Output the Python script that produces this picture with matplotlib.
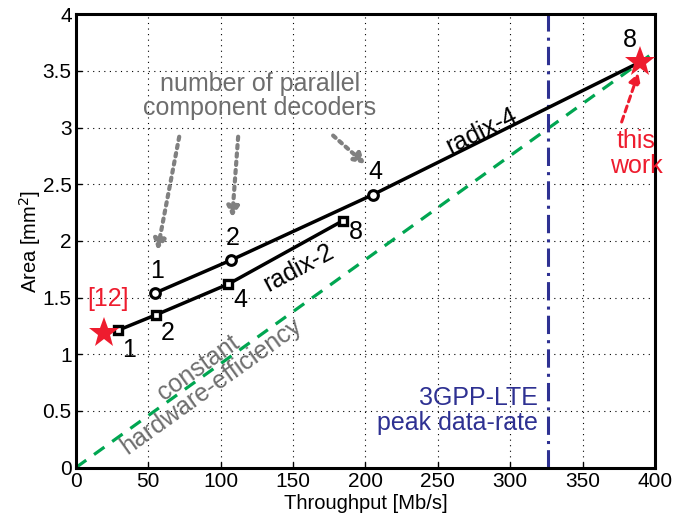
import matplotlib
matplotlib.use("Agg")
import matplotlib.pyplot as plt

plt.rcParams['font.family'] = ['Liberation Sans', 'DejaVu Sans']

# data
r4_x = [54.6, 107, 205.4]
r4_y = [1.54, 1.83, 2.41]
r4_labels = ['1', '2', '4']
r2_x = [28.8, 55.7, 105.4, 184.6]
r2_y = [1.21, 1.35, 1.62, 2.18]
r2_labels = ['1', '2', '4', '8']
this_x, this_y = 390, 3.58
ref_x, ref_y = 19.5, 1.19
eff_x = [0, 400]
eff_y = [0, 3.67]
lte_x = 326.4

RED = '#EE1C2E'
GRAY = '#6E6E6E'
GREEN = '#00A651'
BLUE = '#2E3192'

fig = plt.figure(figsize=(6.96, 5.21), dpi=100)
ax = fig.add_axes([0.109, 0.1025, 0.832, 0.870])

ax.set_xlim(0, 400)
ax.set_ylim(0, 4)
ax.set_xticks(range(0, 401, 50))
ax.set_yticks([0, 0.5, 1, 1.5, 2, 2.5, 3, 3.5, 4])
ax.set_yticklabels(['0', '0.5', '1', '1.5', '2', '2.5', '3', '3.5', '4'])
ax.grid(True, color='black', linestyle=(0, (1, 4)), linewidth=0.8)
ax.tick_params(direction='in', labelsize=15, length=4, width=1, pad=3)
for s in ax.spines.values():
    s.set_linewidth(2.2)
ax.set_xlabel('Throughput [Mb/s]', fontsize=14.5, labelpad=2)
ax.set_ylabel('Area [mm$^2$]', fontsize=14.5, labelpad=0)

# constant efficiency line
ax.plot(eff_x, eff_y, color=GREEN, linestyle=(0, (4, 3)), linewidth=2.3, zorder=2)
# LTE line
ax.axvline(lte_x, color=BLUE, linestyle=(0, (6, 2, 1, 2)), linewidth=2.2, zorder=2)

# radix-4
ax.plot(r4_x + [this_x], r4_y + [this_y], color='black', linewidth=2.5, zorder=3)
ax.plot(r4_x, r4_y, linestyle='none', marker='o', markersize=7,
        markerfacecolor='white', markeredgecolor='black', markeredgewidth=2.2, zorder=4)
# radix-2
ax.plot(r2_x, r2_y, color='black', linewidth=2.5, marker='s', markersize=5.5,
        markerfacecolor='white', markeredgecolor='black', markeredgewidth=2.4, zorder=4)

# stars
ax.plot([this_x], [this_y], marker='*', markersize=23, color=RED, markeredgewidth=0, zorder=5)
ax.plot([ref_x], [ref_y], marker='*', markersize=23, color=RED, markeredgewidth=0, zorder=5)

fs = 18
for x, y, t in zip(r4_x, r4_y, r4_labels):
    ax.text(x + 1.5, y + 0.09, t, fontsize=fs, ha='center', va='bottom')
for x, y, t, dx, dy in zip(r2_x, r2_y, r2_labels, [8, 8, 8, 9], [-0.17, -0.16, -0.14, -0.1]):
    ax.text(x + dx, y + dy, t, fontsize=fs, ha='center', va='center')
ax.text(383, 3.77, '8', fontsize=fs, ha='center', va='center')
ax.text(22, 1.49, '[12]', fontsize=fs, color=RED, ha='center', va='center')

ax.text(280, 2.97, 'radix-4', fontsize=fs, rotation=26, ha='center', va='center')
ax.text(154, 1.76, 'radix-2', fontsize=fs, rotation=28, ha='center', va='center')
ax.text(89, 0.8, 'constant\nhardware-efficiency', fontsize=fs, color=GRAY,
        rotation=35.6, ha='center', va='center', linespacing=0.95)
ax.text(319, 0.5, '3GPP-LTE\npeak data-rate', fontsize=fs, color=BLUE,
        ha='right', va='center', linespacing=1.05)
ax.text(127, 3.28, 'number of parallel\ncomponent decoders', fontsize=fs, color=GRAY,
        ha='center', va='center', linespacing=1.0)
ax.text(387, 2.77, 'this\nwork', fontsize=fs, color=RED, ha='center', va='center',
        linespacing=1.05)

aprops = dict(arrowstyle='-|>,head_length=0.6,head_width=0.35', linestyle=(0, (0.8, 1.2)),
              lw=3, color='#808080', shrinkA=0, shrinkB=0)
ax.annotate('', xy=(56.4, 1.92), xytext=(71.4, 2.92), arrowprops=aprops)
ax.annotate('', xy=(108, 2.21), xytext=(112.1, 2.92), arrowprops=aprops)
ax.annotate('', xy=(199.7, 2.68), xytext=(177.7, 2.93), arrowprops=aprops)
rprops = dict(arrowstyle='-|>,head_length=0.6,head_width=0.35', linestyle=(0, (2, 1.5)),
              lw=2.2, color=RED, shrinkA=0, shrinkB=0)
ax.annotate('', xy=(388.5, 3.48), xytext=(377, 3.05), arrowprops=rprops)

fig.savefig('out.png', dpi=100)
